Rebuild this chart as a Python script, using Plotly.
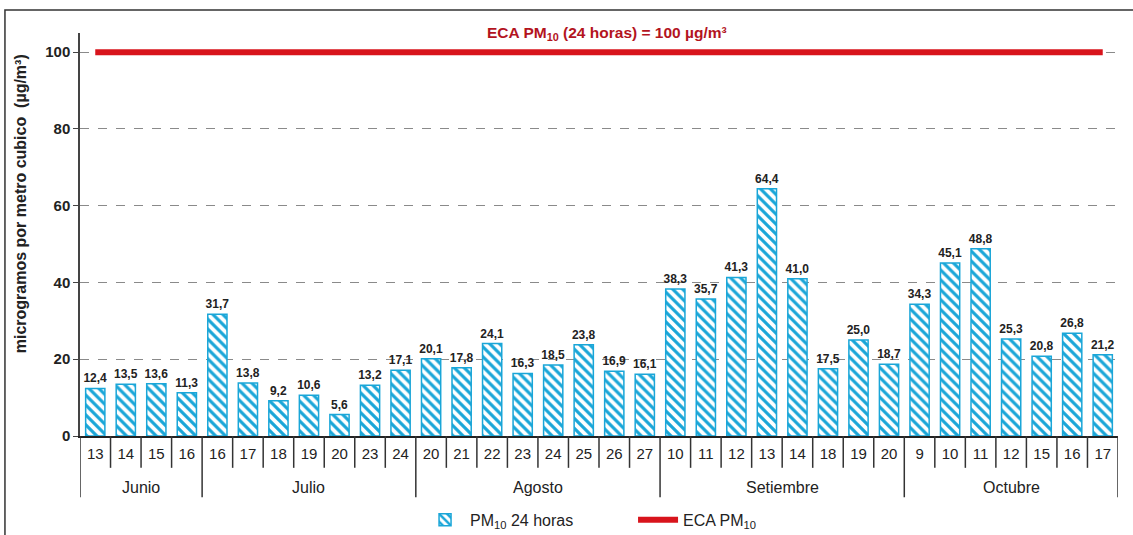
import plotly.graph_objects as go

# Sampling days grouped by month
month_names = ["Junio", "Julio", "Agosto", "Setiembre", "Octubre"]
month_days = [
    ["13", "14", "15", "16"],
    ["16", "17", "18", "19", "20", "23", "24"],
    ["20", "21", "22", "23", "24", "25", "26", "27"],
    ["10", "11", "12", "13", "14", "18", "19", "20"],
    ["9", "10", "11", "12", "15", "16", "17"],
]

# PM10 24-hour concentrations (µg/m³)
pm10 = [12.4, 13.5, 13.6, 11.3,
        31.7, 13.8, 9.2, 10.6, 5.6, 13.2, 17.1,
        20.1, 17.8, 24.1, 16.3, 18.5, 23.8, 16.9, 16.1,
        38.3, 35.7, 41.3, 64.4, 41.0, 17.5, 25.0, 18.7,
        34.3, 45.1, 48.8, 25.3, 20.8, 26.8, 21.2]

# Environmental quality standard (ECA) for PM10, 24 h
eca_limit = 100

y_ticks = [0, 20, 40, 60, 80, 100]

FONT = "Arial, Liberation Sans, sans-serif"
CYAN = "#1aa6d8"
RED = "#d8141c"
INK = "#222"

# One unique category per sampling day; the day number is shown as tick text
keys, day_text = [], []
for m, ds in zip(month_names, month_days):
    for d in ds:
        keys.append(f"{m} {d}")
        day_text.append(d)

labels = [f"<b>{v:.1f}</b>".replace(".", ",") for v in pm10]

fig = go.Figure()

fig.add_trace(go.Bar(
    x=keys,
    y=pm10,
    name="PM<sub>10</sub> 24 horas",
    text=labels,
    textposition="outside",
    constraintext="none",
    cliponaxis=False,
    textfont=dict(family=FONT, size=12, color=INK),
    marker=dict(
        color="white",
        line=dict(color=CYAN, width=1.5),
        pattern=dict(shape="\\", fgcolor=CYAN, bgcolor="white",
                     size=7, solidity=0.45, fillmode="replace"),
    ),
))

fig.add_trace(go.Scatter(
    x=keys,
    y=[eca_limit] * len(pm10),
    name="ECA PM<sub>10</sub>",
    mode="lines",
    line=dict(color=RED, width=6),
    cliponaxis=False,
))

# Two-level category axis: day dividers, month dividers and month names
DAY_DIV = -0.079
MONTH_DIV = -0.152
shapes = []
annotations = []
start = 0
n_total = len(keys)
for m, ds in zip(month_names, month_days):
    for i in range(start + 1, start + len(ds)):
        shapes.append(dict(type="line", xref="x", yref="paper",
                           x0=i - 0.5, x1=i - 0.5, y0=0, y1=DAY_DIV,
                           line=dict(color="#333", width=1.5)))
    shapes.append(dict(type="line", xref="x", yref="paper",
                       x0=start - 0.5, x1=start - 0.5, y0=0, y1=MONTH_DIV,
                       line=dict(color="#333", width=1.5)))
    annotations.append(dict(text=m, xref="x", yref="paper",
                            x=start + (len(ds) - 1) / 2, y=-0.129,
                            xanchor="center", yanchor="middle", showarrow=False,
                            font=dict(family=FONT, size=16, color=INK)))
    start += len(ds)
shapes.append(dict(type="line", xref="x", yref="paper",
                   x0=n_total - 0.5, x1=n_total - 0.5, y0=0, y1=MONTH_DIV,
                   line=dict(color="#333", width=1.5)))

# Outer frame (left and top edges)
shapes.append(dict(type="path", xref="paper", yref="paper",
                   path="M -0.0723,-0.3 L -0.0723,1.057 L 1.05,1.057",
                   line=dict(color="#333", width=1.5)))

# Chart heading
annotations.append(dict(
    text="<b>ECA PM<sub>10</sub> (24 horas) = 100 µg/m³</b>",
    xref="paper", yref="paper", x=0.508, y=1.0, yanchor="middle", xanchor="center",
    showarrow=False, font=dict(family=FONT, size=15.5, color="#b3141e"),
))

# Y axis title
annotations.append(dict(
    text="<b>microgramos por metro cubico  (µg/m³)</b>",
    xref="paper", yref="paper", x=-0.0578, y=0.575, textangle=-90,
    xanchor="center", yanchor="middle", showarrow=False,
    font=dict(family=FONT, size=16, color=INK),
))

fig.update_layout(
    width=1133, height=535,
    margin=dict(l=80, r=15, t=33, b=99, autoexpand=False),
    paper_bgcolor="white",
    plot_bgcolor="white",
    font=dict(family=FONT, size=13, color=INK),
    bargap=0.37,
    showlegend=True,
    legend=dict(orientation="h", x=0.3276, xanchor="left", y=-0.208, yanchor="middle",
                font=dict(family=FONT, size=16, color=INK),
                entrywidth=158, itemwidth=40, bgcolor="rgba(0,0,0,0)"),
    annotations=annotations,
    shapes=shapes,
)

fig.update_yaxes(
    range=[0, 105],
    tickvals=y_ticks,
    ticktext=[f"<b>{t}</b>" for t in y_ticks],
    tickfont=dict(family=FONT, size=15, color=INK),
    showgrid=True, gridcolor="#8a8a8a", griddash="dash", gridwidth=1,
    showline=True, linecolor="#444", linewidth=1.5,
    ticks="outside", ticklen=5, tickcolor="#444",
    zeroline=False, automargin=False,
)

fig.update_xaxes(
    type="category",
    categoryorder="array", categoryarray=keys,
    range=[-0.5, n_total - 0.5],
    tickvals=keys, ticktext=day_text,
    ticks="", ticklabelstandoff=3,
    showline=True, linecolor=INK, linewidth=1.5,
    tickfont=dict(family=FONT, size=15, color=INK),
    showgrid=False, automargin=False,
)

fig.write_html("out.html")
